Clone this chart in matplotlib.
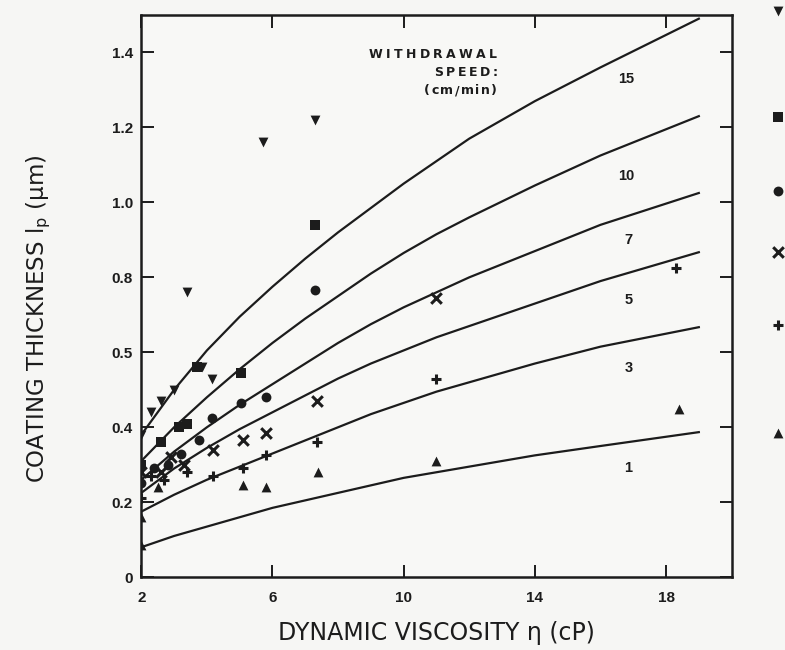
import numpy as np
import matplotlib
matplotlib.use("Agg")
import matplotlib.pyplot as plt
from matplotlib.font_manager import FontProperties
from matplotlib.transforms import offset_copy

plt.rcParams['font.family'] = ['Liberation Sans', 'DejaVu Sans']

# fitted curves, thickness (um) vs viscosity (cP), one per withdrawal speed
speeds = ['1', '3', '5', '7', '10', '15']
eta_fit = [2, 3, 4, 5, 6, 7, 8, 9, 10, 11, 12, 14, 16, 19]
fit_1 = [0.08, 0.11, 0.135, 0.16, 0.185, 0.205, 0.225, 0.245, 0.265, 0.28, 0.295, 0.325, 0.35, 0.387]
fit_3 = [0.175, 0.22, 0.26, 0.295, 0.33, 0.365, 0.40, 0.435, 0.465, 0.495, 0.52, 0.57, 0.615, 0.667]
fit_5 = [0.225, 0.29, 0.345, 0.395, 0.44, 0.485, 0.53, 0.57, 0.605, 0.64, 0.67, 0.73, 0.79, 0.867]
fit_7 = [0.26, 0.335, 0.40, 0.46, 0.515, 0.57, 0.625, 0.675, 0.72, 0.76, 0.80, 0.87, 0.94, 1.025]
fit_10 = [0.31, 0.40, 0.48, 0.555, 0.625, 0.69, 0.75, 0.81, 0.865, 0.915, 0.96, 1.045, 1.125, 1.23]
fit_15 = [0.38, 0.50, 0.605, 0.695, 0.775, 0.85, 0.92, 0.985, 1.05, 1.11, 1.17, 1.27, 1.36, 1.49]

# measured points
eta_1 = [18.4, 11.0, 7.4, 5.8, 5.1, 2.0, 2.0, 2.5]
h_1 = [0.45, 0.31, 0.28, 0.24, 0.245, 0.085, 0.16, 0.24]
eta_3 = [18.3, 11.0, 7.35, 5.8, 5.1, 4.2, 3.4, 2.7, 2.0, 2.3]
h_3 = [0.825, 0.53, 0.36, 0.325, 0.29, 0.27, 0.28, 0.26, 0.21, 0.27]
eta_5 = [11.0, 7.35, 5.8, 5.1, 4.2, 3.3, 2.6, 2.0, 2.9]
h_5 = [0.745, 0.47, 0.385, 0.365, 0.34, 0.30, 0.28, 0.28, 0.32]
eta_7 = [7.3, 5.8, 5.05, 4.15, 3.75, 2.0, 2.8, 3.2, 2.4]
h_7 = [0.765, 0.48, 0.465, 0.425, 0.365, 0.25, 0.30, 0.33, 0.29]
eta_10 = [7.3, 5.05, 3.7, 3.15, 3.4, 2.0, 2.6]
h_10 = [0.94, 0.545, 0.56, 0.40, 0.41, 0.30, 0.36]
eta_15 = [7.3, 5.7, 3.4, 3.85, 4.15, 2.6, 3.0, 2.0, 2.3]
h_15 = [1.22, 1.16, 0.76, 0.56, 0.53, 0.47, 0.50, 0.38, 0.44]

# key symbols beside the right frame
key_eta = 21.4
key_h = [0.385, 0.672, 0.867, 1.03, 1.227, 1.51]
markers = ['^', '+', 'x', 'o', 's', 'v']

# curve labels
label_eta = [16.85, 16.85, 16.85, 16.85, 16.8, 16.8]
label_h = [0.29, 0.557, 0.74, 0.90, 1.07, 1.33]

ytick_vals = [0, 0.2, 0.4, 0.6, 0.8, 1.0, 1.2, 1.4]
ytick_text = ['0', '0.2', '0.4', '0.5', '0.8', '1.0', '1.2', '1.4']
xtick_vals = [2, 6, 10, 14, 18]

fits = [fit_1, fit_3, fit_5, fit_7, fit_10, fit_15]
etas = [eta_1, eta_3, eta_5, eta_7, eta_10, eta_15]
hs = [h_1, h_3, h_5, h_7, h_10, h_15]

ink = '#1c1c1c'
fig = plt.figure(figsize=(7.85, 6.5), dpi=100, facecolor='#f6f6f4')
ax = fig.add_axes([0.180, 0.112, 0.752, 0.865])
ax.set_facecolor('#f8f8f6')


def tracked_text(x, y, s, size, track):
    # right-aligned text with extra letter spacing (track in points)
    fp = FontProperties(family='DejaVu Sans', size=size, weight='bold')
    rend = fig.canvas.get_renderer()
    widths = []
    for c in s:
        w, _, _ = rend.get_text_width_height_descent(c, fp, ismath=False)
        widths.append(w * 72.0 / fig.dpi)
    total = sum(widths) + track * (len(s) - 1)
    pos = -total
    for c, w in zip(s, widths):
        tr = offset_copy(ax.transData, fig=fig, x=pos, y=0, units='points')
        ax.text(x, y, c, transform=tr, fontproperties=fp, color=ink,
                ha='left', va='baseline')
        pos += w + track


for i in range(len(speeds)):
    ax.plot(eta_fit, fits[i], color=ink, lw=1.6)
    m = markers[i]
    filled = m not in ('+', 'x')
    ax.scatter(etas[i], hs[i], marker=m, s=50 if filled else 58,
               color=ink, linewidths=0 if filled else 2.2, zorder=3)
    ax.scatter([key_eta], [key_h[i]], marker=m, s=50 if filled else 58,
               color=ink, linewidths=0 if filled else 2.2, clip_on=False, zorder=3)
    ax.text(label_eta[i], label_h[i], speeds[i], fontsize=10.5, fontweight='bold',
            color=ink, ha='center', va='center')

tracked_text(12.85, 1.385, 'WITHDRAWAL', 9, 2.4)
tracked_text(12.85, 1.337, 'SPEED:', 9, 1.8)
tracked_text(12.85, 1.289, '(cm/min)', 9, 1.1)

ax.set_xlim(2, 20)
ax.set_ylim(0, 1.5)
ax.set_xticks(xtick_vals)
ax.set_yticks(ytick_vals)
ax.set_yticklabels(ytick_text)
ax.tick_params(direction='in', length=9, width=1.4, top=True, right=True,
               labelsize=11, colors=ink)
ax.tick_params(axis='y', pad=6)
ax.tick_params(axis='x', pad=10)
for lab in ax.get_xticklabels() + ax.get_yticklabels():
    lab.set_fontweight('bold')
for sp in ax.spines.values():
    sp.set_linewidth(1.8)
    sp.set_color(ink)

ax.set_xlabel('DYNAMIC VISCOSITY η (cP)', fontsize=17, color=ink,
              family='DejaVu Sans')
ax.xaxis.set_label_coords(0.50, -0.078)
ax.set_ylabel('COATING THICKNESS l$_\\mathrm{p}$ (μm)', fontsize=16.5, color=ink,
              family='DejaVu Sans')
ax.yaxis.set_label_coords(-0.150, 0.459)

fig.savefig('out.png', dpi=100, facecolor=fig.get_facecolor())
